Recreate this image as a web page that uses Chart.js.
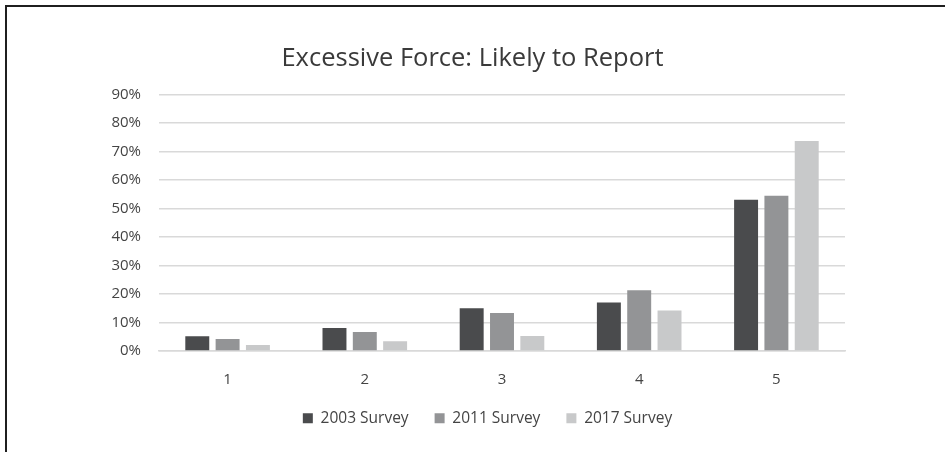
<!DOCTYPE html>
<html>
<head>
<meta charset="utf-8">
<script src="https://cdn.jsdelivr.net/npm/chart.js@4.4.1/dist/chart.umd.min.js"></script>
<style>
  html, body { margin: 0; padding: 0; background: #fff; overflow: hidden; }
  #wrap { position: relative; width: 945px; height: 452px; }
  #frame {
    position: absolute; left: 5px; top: 5px; width: 1000px; height: 1000px;
    border-left: 2px solid #1f1f1f; border-top: 2px solid #1f1f1f;
    pointer-events: none;
  }
  canvas { position: absolute; left: 0; top: 0; }
</style>
</head>
<body>
<div id="wrap">
  <canvas id="chart" width="945" height="452"></canvas>
  <div id="frame"></div>
</div>
<script>
// ---- Data ----
const CATEGORIES = ["1", "2", "3", "4", "5"];
const SURVEY_2003 = [5.2, 8.1, 15.0, 17.0, 53.1];
const SURVEY_2011 = [4.2, 6.7, 13.3, 21.3, 54.5];
const SURVEY_2017 = [2.1, 3.4, 5.3, 14.2, 73.7];
const Y_TICKS = [0, 10, 20, 30, 40, 50, 60, 70, 80, 90];

const FONT = "'Open Sans', 'Noto Sans', sans-serif";
const TEXT = "#444444";
const GRID = "#d9d9d9";

function series(label, data, color) {
  return {
    label,
    data,
    backgroundColor: color,
    borderWidth: 0,
    categoryPercentage: 0.663,
    barPercentage: 0.79,
  };
}

// nudge the legend row to the right of the canvas centre
const legendShift = {
  id: "legendShift",
  afterLayout(chart) {
    if (chart.legend) chart.legend.left += 30;
  }
};

new Chart(document.getElementById("chart"), {
  type: "bar",
  data: {
    labels: CATEGORIES,
    datasets: [
      series("2003 Survey", SURVEY_2003, "#4a4b4d"),
      series("2011 Survey", SURVEY_2011, "#939496"),
      series("2017 Survey", SURVEY_2017, "#c8c9ca"),
    ]
  },
  plugins: [legendShift],
  options: {
    responsive: false,
    animation: false,
    layout: { padding: { left: 0, right: 0, top: 43, bottom: 16 } },
    plugins: {
      tooltip: { enabled: false },
      title: {
        display: true,
        text: "Excessive Force: Likely to Report",
        color: "#3a3a3a",
        font: { family: FONT, size: 25.5, weight: "normal" },
        padding: { top: 0, bottom: 21 },
      },
      legend: {
        position: "bottom",
        labels: {
          color: TEXT,
          font: { family: FONT, size: 15.5 },
          boxWidth: 10,
          boxHeight: 10,
          padding: 26,
        }
      }
    },
    scales: {
      x: {
        grid: { display: false, drawTicks: false },
        border: { display: true, color: GRID, width: 1.5 },
        ticks: { color: TEXT, font: { family: FONT, size: 15 }, padding: 20 },
        afterFit: s => { s.height = 33.5; },
      },
      y: {
        min: 0,
        max: 90,
        afterBuildTicks: s => { s.ticks = Y_TICKS.map(v => ({ value: v })); },
        grid: { color: GRID, lineWidth: 1.5, drawTicks: false },
        border: { display: false },
        ticks: {
          color: TEXT,
          font: { family: FONT, size: 15 },
          padding: 18,
          callback: v => v + "%",
        },
        afterFit: s => { s.width = 159; },
      },
      // empty right margin so the plot stops short of the frame
      spacer: {
        type: "linear",
        position: "right",
        grid: { display: false, drawTicks: false },
        border: { display: false },
        ticks: { display: false },
        afterFit: s => { s.width = 100; },
      }
    }
  }
});
</script>
</body>
</html>
